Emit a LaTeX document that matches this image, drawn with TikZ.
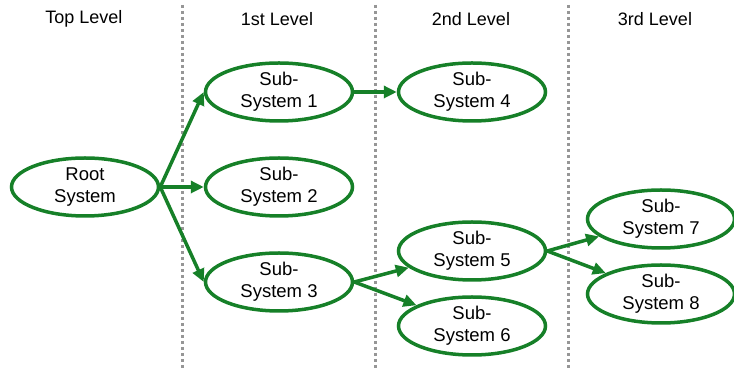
\documentclass[tikz,border=0pt]{standalone}
\usepackage{fontspec}
\setmainfont{Liberation Sans}
\usetikzlibrary{shapes.geometric,arrows.meta}
\definecolor{tgreen}{RGB}{22,128,40}
\definecolor{divgray}{RGB}{150,150,150}
\tikzset{
  sysnode/.style={ellipse,draw=tgreen,line width=3.5pt,inner sep=0pt,minimum width=147pt,minimum height=58pt,align=center,font=\fontsize{18.5}{22}\selectfont},
  hdr/.style={font=\fontsize{18}{22}\selectfont},
  link/.style={draw=tgreen,line width=3.5pt,-{Triangle[length=13pt,width=12pt]}},
  divider/.style={draw=divgray,line width=3pt,dash pattern=on 3pt off 3pt}
}
\begin{document}
\begin{tikzpicture}[x=1pt,y=1pt]
\useasboundingbox (0,0) rectangle (734,369);
% dividers
\foreach \xx/\nm in {182/d1,375/d2,568/d3}{
  \coordinate (\nm t) at (\xx,364);
  \coordinate (\nm b) at (\xx,0);
  \draw[divider] (\nm t) -- (\nm b);
}
% headers
\node[hdr] (h0) at (84,350) {Top Level};
\node[hdr] (h1) at (277,350) {1st Level};
\node[hdr] (h2) at (471,350) {2nd Level};
\node[hdr] (h3) at (655,350) {3rd Level};
% nodes
\node[sysnode] (root) at (85,182) {Root\\System};
\node[sysnode] (s1) at (279,277) {Sub-\\System 1};
\node[sysnode] (s2) at (279,182) {Sub-\\System 2};
\node[sysnode] (s3) at (279,87) {Sub-\\System 3};
\node[sysnode] (s4) at (472,277) {Sub-\\System 4};
\node[sysnode] (s5) at (472,118) {Sub-\\System 5};
\node[sysnode] (s6) at (472,43) {Sub-\\System 6};
\node[sysnode] (s7) at (661,150) {Sub-\\System 7};
\node[sysnode] (s8) at (661,75) {Sub-\\System 8};
% links
\draw[link] (root.east) -- (s1.west);
\draw[link] (root.east) -- (s2.west);
\draw[link] (root.east) -- (s3.west);
\draw[link] (s1.east) -- (s4.west);
\draw[link] (s3.east) -- (s5);
\draw[link] (s3.east) -- (s6);
\draw[link] (s5.east) -- (s7);
\draw[link] (s5.east) -- (s8);
\end{tikzpicture}
\end{document}
